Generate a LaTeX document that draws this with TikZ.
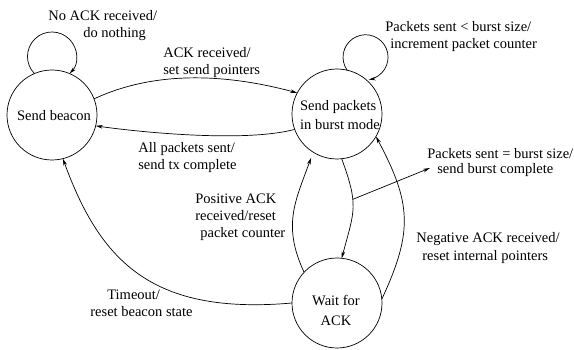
\documentclass[tikz,border=0pt]{standalone}
\usepackage{fontspec}
\setmainfont{Liberation Serif}
\usetikzlibrary{arrows.meta}
\begin{document}
\begin{tikzpicture}[x=1pt,y=1pt,line width=0.7pt,
  state/.style={circle,draw,minimum size=90pt,inner sep=0pt,outer sep=0pt},
  txt/.style={font=\fontsize{14.5}{17}\selectfont,inner sep=0pt},
  lbl/.style={font=\fontsize{14.5}{17}\selectfont,align=left,inner sep=0pt,anchor=north west},
  arr/.style={-{Stealth[length=7pt,width=3.6pt]}}]
\useasboundingbox (0,0) rectangle (574,-350);
% states
\node[state] (B) at (52,-115) {};
\node[state] (P) at (337,-114) {};
\node[state] (W) at (337,-303) {};
\node[txt] (Bt) at (54,-116) {Send beacon};
\node[txt,align=left] (Pt) at (340,-115.5) {Send packets\\[2pt]in burst mode};
\node[txt,align=center] (Wt) at (336,-310) {Wait for\\[3pt]ACK};
% labels
\node[lbl] (L1) at (48,-9.6) {No ACK received/\\\hspace*{35pt}do nothing};
\node[lbl] (L2) at (163,-46.6) {ACK received/\\set send pointers};
\node[lbl] (L3) at (138,-141.6) {All packets sent/\\send tx complete};
\node[lbl] (L4) at (385,-20.6) {Packets sent < burst size/\\\hspace*{5pt}increment packet counter};
\node[lbl] (L5) at (427,-147.6) {Packets sent = burst size/\\[-2pt]\hspace*{10pt}send burst complete};
\node[lbl] (L6) at (195,-193.6) {Positive ACK\\received/reset\\\hspace*{5pt}packet counter};
\node[lbl] (L7) at (90,-289.6) {\hspace*{17pt}Timeout/\\reset beacon state};
\node[lbl] (L8) at (416,-231.6) {Negative ACK received/\\[1pt]\hspace*{6pt}reset internal pointers};
\coordinate (tipL5) at (430,-168);
% self loops
\draw[arr] (B.113) arc[start angle=224.2,end angle=-44.2,radius=24.5];
\draw[arr] (P.77) arc[start angle=215,end angle=-82,radius=22.5];
% transitions
\draw[arr] (B.21) .. controls +(25:70) and +(165:70) .. (P.152);
\draw[arr] (P.200) .. controls +(195:50) and +(-8:50) .. (B.-14);
\draw[arr] (P.276) .. controls +(-70:50) and +(75:50) .. coordinate[pos=0.39] (m) (W.84);
\draw[arr] (m) -- (tipL5);
\draw[arr,shorten >=6pt] (W.137) .. controls +(115:52) and +(-110:52) .. (P.238);
\draw[arr] (W.5) .. controls +(65:75) and +(-62:75) .. (P.-30);
\draw[arr] (W.180) .. controls +(185:140) and +(-70:110) .. (B.-76);
\end{tikzpicture}
\end{document}
